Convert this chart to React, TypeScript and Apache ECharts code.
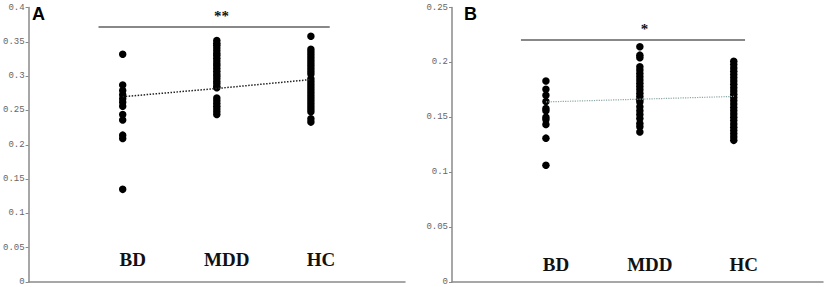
import React, { useEffect, useRef } from "react";
import * as echarts from "echarts";

const categories = ["BD", "MDD", "HC"];

// Panel A values
const aBD = [0.332, 0.287, 0.279, 0.273, 0.267, 0.262, 0.256, 0.244, 0.236, 0.214, 0.209, 0.135];
const aMDD = [0.352, 0.348, 0.345, 0.341, 0.337, 0.333, 0.33, 0.326, 0.322, 0.318, 0.315, 0.311, 0.307, 0.303, 0.3, 0.296, 0.292, 0.289, 0.285, 0.283, 0.268, 0.264, 0.26, 0.256, 0.252, 0.248, 0.244];
const aHC = [0.358, 0.339, 0.335, 0.331, 0.327, 0.323, 0.319, 0.315, 0.311, 0.307, 0.303, 0.296, 0.292, 0.288, 0.284, 0.28, 0.276, 0.272, 0.268, 0.264, 0.26, 0.256, 0.252, 0.248, 0.238, 0.233];
const aMeans = [0.27, 0.282, 0.295];
const aSig = { label: "**", y: 0.372, from: 0.743, to: 3.2 };

// Panel B values
const bBD = [0.183, 0.1755, 0.17, 0.1645, 0.158, 0.156, 0.15, 0.148, 0.1435, 0.131, 0.1063];
const bMDD = [0.2142, 0.2066, 0.2042, 0.196, 0.193, 0.19, 0.187, 0.184, 0.181, 0.178, 0.175, 0.172, 0.169, 0.166, 0.164, 0.1595, 0.156, 0.1525, 0.149, 0.1444, 0.1413, 0.1367];
const bHC = [0.201, 0.198, 0.195, 0.192, 0.189, 0.186, 0.183, 0.18, 0.177, 0.174, 0.171, 0.168, 0.165, 0.162, 0.159, 0.156, 0.153, 0.15, 0.147, 0.144, 0.141, 0.138, 0.135, 0.132, 0.129];
const bMeans = [0.164, 0.1665, 0.169];
const bSig = { label: "*", y: 0.221, from: 0.734, to: 3.12 };

const yTicksA = { min: 0, max: 0.4, interval: 0.05 };
const yTicksB = { min: 0, max: 0.25, interval: 0.05 };

function toPoints(groups: number[][]) {
  const pts: number[][] = [];
  groups.forEach((g, i) => g.forEach((v) => pts.push([i + 1, v])));
  return pts;
}

export default function App() {
  const ref = useRef<HTMLDivElement>(null);
  useEffect(() => {
    if (!ref.current) return;
    const chart = echarts.init(ref.current, undefined, { renderer: "svg" });
    const axisGray = "#8a8a8a";
    const mkX = (gridIndex: number, max: number, margin: number) => ({
      type: "value",
      gridIndex,
      min: 0,
      max,
      interval: 1,
      splitLine: { show: false },
      axisTick: { show: false },
      axisLine: { show: true, lineStyle: { color: axisGray, width: 1.5 } },
      axisLabel: {
        show: true,
        inside: true,
        margin,
        padding: [0, 0, 0, 20],
        formatter: (v: number) => categories[v - 1] ?? "",
        fontFamily: "Liberation Serif",
        fontWeight: "bold",
        fontSize: 19,
        color: "#111",
      },
    });
    const mkY = (gridIndex: number, t: { min: number; max: number; interval: number }) => ({
      type: "value",
      gridIndex,
      min: t.min,
      max: t.max,
      interval: t.interval,
      splitLine: { show: false },
      axisLine: { show: true, lineStyle: { color: axisGray, width: 1.5 } },
      axisTick: { show: true, length: 3, lineStyle: { color: axisGray } },
      axisLabel: {
        fontFamily: "Liberation Mono",
        fontSize: 9,
        color: "#666",
        margin: 4,
        formatter: (v: number) => String(Math.round(v * 100) / 100),
      },
    });
    const scatter = (idx: number, groups: number[][]) => ({
      type: "scatter",
      xAxisIndex: idx,
      yAxisIndex: idx,
      data: toPoints(groups),
      symbolSize: 7.5,
      itemStyle: { color: "#000", opacity: 1 },
      z: 3,
    });
    const meanLine = (idx: number, means: number[], color: string, width: number, sig: any, starSize: number) => ({
      type: "line",
      xAxisIndex: idx,
      yAxisIndex: idx,
      data: means.map((m, i) => [i + 1, m]),
      showSymbol: false,
      symbol: "none",
      lineStyle: { color, width, type: "dotted" },
      z: 4,
      markLine: {
        silent: true,
        symbol: "none",
        label: { show: false },
        lineStyle: { color: "#888", width: 2, type: "solid" },
        data: [[{ coord: [sig.from, sig.y] }, { coord: [sig.to, sig.y] }]],
      },
      markPoint: {
        silent: true,
        symbol: "circle",
        symbolSize: 0,
        data: [{ coord: [2.05, sig.y] }],
        label: {
          show: true,
          position: "top",
          distance: 3,
          formatter: sig.label,
          fontFamily: "Liberation Serif",
          fontWeight: "bold",
          fontSize: starSize,
          color: "#111",
        },
      },
    });
    chart.setOption({
      animation: false,
      grid: [
        { left: 28, top: 7.5, width: 377, height: 274.5 },
        { left: 452, top: 7.5, width: 371, height: 274.5 },
      ],
      xAxis: [mkX(0, 4, 13), mkX(1, 3.95, 8)],
      yAxis: [mkY(0, yTicksA), mkY(1, yTicksB)],
      graphic: [
        { type: "text", left: 32, top: 5, style: { text: "A", font: "bold 18px Liberation Sans", fill: "#000" } },
        { type: "text", left: 464, top: 5, style: { text: "B", font: "bold 18px Liberation Sans", fill: "#000" } },
      ],
      series: [
        scatter(0, [aBD, aMDD, aHC]),
        meanLine(0, aMeans, "#222", 1.5, aSig, 15),
        scatter(1, [bBD, bMDD, bHC]),
        meanLine(1, bMeans, "#8aa5a5", 1.2, bSig, 15),
      ],
    });
    return () => chart.dispose();
  }, []);
  return (
    <div
      ref={ref}
      style={{ position: "fixed", left: 0, top: 0, width: 829, height: 287, background: "#fff" }}
    />
  );
}
